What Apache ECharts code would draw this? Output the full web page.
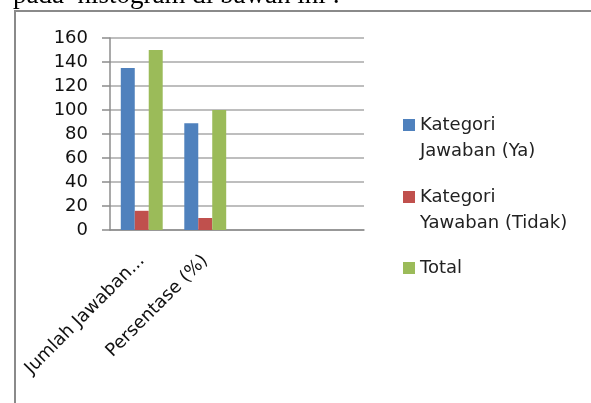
<!DOCTYPE html>
<html>
<head>
<meta charset="UTF-8">
<title>Histogram</title>
<style type="text/css">
    html,body{padding:0; margin:0; background:#fff;}
    #main{width:591px; height:403px;}
</style>
<script src="https://cdn.jsdelivr.net/npm/echarts@6/dist/echarts.min.js"></script>
</head>
<body>
<div id="main"></div>
<script type="text/javascript">
    var categories = ['Jumlah Jawaban...', 'Persentase (%)', '', ''];
    var seriesNames = ['Kategori\nJawaban (Ya)', 'Kategori\nYawaban (Tidak)', 'Total'];
    var jawabanYa = [135, 89, null, null];
    var jawabanTidak = [16, 10, null, null];
    var total = [150, 100, null, null];
    var yTicks = {min: 0, max: 160, interval: 20};

    var colors = ['#4f81bd', '#c0504d', '#9bbb59'];
    var font = 'DejaVu Sans';
    var axisGrey = '#8c8c8c';

    // legend: one per item; a leading blank line puts the icon on the first text line
    function legendItem(name, top, twoLines) {
        return {
            orient: 'vertical',
            left: 403,
            top: top,
            padding: 0,
            itemWidth: 12,
            itemHeight: 12,
            icon: 'rect',
            selectedMode: false,
            data: [name],
            formatter: function (n) {
                return twoLines ? '\n' + n : n;
            },
            textStyle: {
                fontFamily: font,
                fontSize: 18,
                color: '#222',
                lineHeight: 26.5
            }
        };
    }

    var myChart = echarts.init(document.getElementById('main'), null, {renderer: 'canvas'});

    var option = {
        animation: false,
        color: colors,
        title: {
            text: 'pada  histogram di bawah ini :',
            left: 13,
            top: -18,
            padding: 0,
            textStyle: {
                fontFamily: 'Liberation Serif',
                fontSize: 27,
                fontWeight: 'normal',
                color: '#000'
            }
        },
        graphic: [{
            type: 'rect',
            shape: {x: 15, y: 11, width: 620, height: 440},
            style: {fill: 'none', stroke: '#8a8a8a', lineWidth: 2},
            silent: true
        }],
        legend: [
            legendItem(seriesNames[0], 85.25, true),
            legendItem(seriesNames[1], 157.25, true),
            legendItem(seriesNames[2], 254.75, false)
        ],
        grid: {left: 110, top: 38, width: 254, height: 192},
        xAxis: {
            type: 'category',
            data: categories,
            axisLine: {lineStyle: {color: axisGrey, width: 1.5}},
            axisTick: {length: 6, lineStyle: {color: axisGrey, width: 1.5}},
            axisLabel: {
                rotate: 45,
                margin: 28,
                interval: 0,
                fontFamily: font,
                fontSize: 18,
                color: '#111'
            }
        },
        yAxis: {
            type: 'value',
            min: yTicks.min,
            max: yTicks.max,
            interval: yTicks.interval,
            axisLine: {show: true, lineStyle: {color: axisGrey, width: 1.5}},
            axisTick: {show: true, length: 8, lineStyle: {color: axisGrey, width: 1.5}},
            splitLine: {lineStyle: {color: '#a8a8a8', width: 1.5}},
            axisLabel: {
                margin: 22,
                fontFamily: font,
                fontSize: 18,
                color: '#111'
            }
        },
        series: [
            {name: seriesNames[0], type: 'bar', data: jawabanYa, barGap: 0, barCategoryGap: '34%'},
            {name: seriesNames[1], type: 'bar', data: jawabanTidak, barGap: 0, barCategoryGap: '34%'},
            {name: seriesNames[2], type: 'bar', data: total, barGap: 0, barCategoryGap: '34%'}
        ]
    };
    myChart.setOption(option);
</script>
</body>
</html>
